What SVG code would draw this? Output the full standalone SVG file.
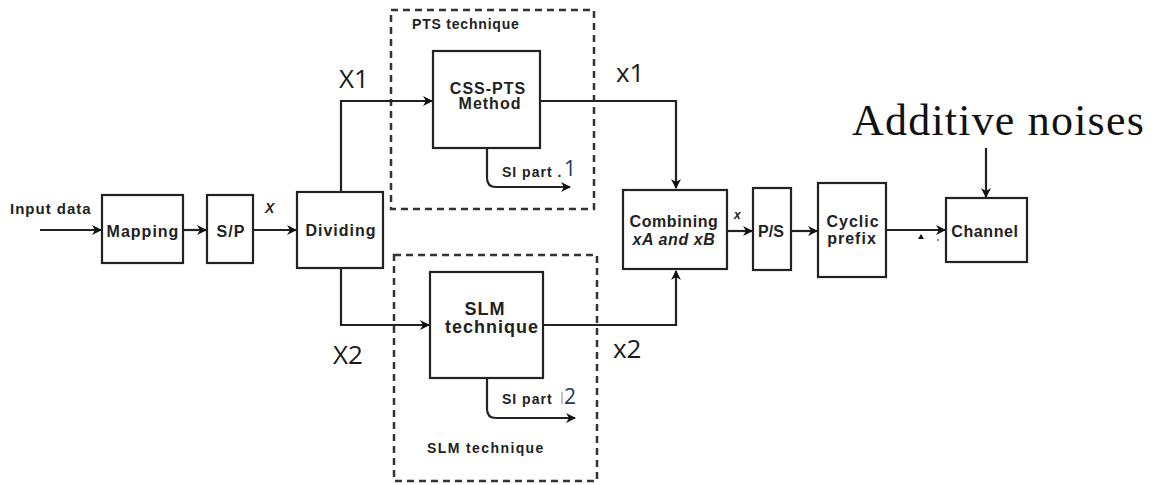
<svg xmlns="http://www.w3.org/2000/svg" width="1159" height="485" viewBox="0 0 1159 485">
<defs>
<marker id="ah" markerWidth="10" markerHeight="10" refX="9" refY="5" orient="auto" markerUnits="userSpaceOnUse">
<path d="M0,0 L10,5 L0,10 L3,5 Z" fill="#111"/>
</marker>
<style>
.box{fill:#fff;stroke:#222;stroke-width:2.2}
.dash{fill:none;stroke:#333;stroke-width:2.5;stroke-dasharray:7,5}
.ln{fill:none;stroke:#222;stroke-width:2.2}
.t{font-family:"Liberation Sans",Arial,sans-serif;font-weight:bold;font-size:16px;letter-spacing:1px;fill:#222}
.s{font-size:14px}
.big{font-family:"Open Sans","Liberation Sans",sans-serif;font-size:26px;fill:#1a1a1a}
.num{font-family:"Open Sans","Liberation Sans",sans-serif;font-size:21px;fill:#1a3a6a}
</style>
</defs>
<rect width="1159" height="485" fill="#fff"/>
<g id="pts-group">
<rect class="dash" x="391" y="10" width="203" height="199"/>
<text class="t s" x="412" y="29" style="letter-spacing:0.8px">PTS technique</text>
</g>
<g id="slm-group">
<rect class="dash" x="394" y="255" width="203" height="226"/>
<text class="t s" x="427" y="453" style="letter-spacing:1.4px">SLM technique</text>
</g>
<g id="connectors">
<line class="ln" x1="40" y1="230" x2="101" y2="230" marker-end="url(#ah)"/>
<line class="ln" x1="183" y1="230" x2="206" y2="230" marker-end="url(#ah)"/>
<line class="ln" x1="253" y1="230" x2="296" y2="230" marker-end="url(#ah)"/>
<polyline class="ln" points="341,192 341,101 432,101" marker-end="url(#ah)"/>
<polyline class="ln" points="341,268 341,325 429,325" marker-end="url(#ah)"/>
<path class="ln" d="M487,148 V178 Q487,187 496,187 H570" marker-end="url(#ah)"/>
<path class="ln" d="M487,378 V409 Q487,418 496,418 H575" marker-end="url(#ah)"/>
<polyline class="ln" points="540,101 676,101 676,188" marker-end="url(#ah)"/>
<polyline class="ln" points="543,325 676,325 676,271" marker-end="url(#ah)"/>
<line class="ln" x1="727" y1="231" x2="752" y2="231" marker-end="url(#ah)"/>
<line class="ln" x1="791" y1="231" x2="817" y2="231" marker-end="url(#ah)"/>
<line class="ln" x1="886" y1="230" x2="945" y2="230" marker-end="url(#ah)"/>
<line class="ln" x1="986" y1="148" x2="986" y2="197" marker-end="url(#ah)"/>
<path d="M918,239 L921,234 L924,239 Z" fill="#111"/>
<circle cx="938" cy="240" r="0.8" fill="#111"/>
</g>
<g id="labels">
<text class="t" x="10" y="214" style="font-size:15px">Input data</text>
<text class="t" x="265" y="213" style="font-style:italic;font-size:14px">X</text>
<text class="big" x="339" y="88">X1</text>
<text class="big" x="333" y="364">X2</text>
<text class="big" x="616" y="82">x1</text>
<text class="big" x="613" y="358">x2</text>
<text class="t" x="734" y="219" style="font-style:italic;font-size:12px">x</text>
<text class="t s" x="502" y="177">SI part .</text>
<text class="num" x="564" y="176">1</text>
<text class="t s" x="502" y="404">SI part</text>
<text class="num" x="564" y="404">2</text>
<line x1="562" y1="392" x2="562" y2="404" stroke="#888" stroke-width="1"/>
<text x="852" y="135" style="font-family:'Liberation Serif','Times New Roman',serif;font-size:44px;letter-spacing:1.2px" fill="#111">Additive noises</text>
</g>
<g id="mapping"><rect class="box" x="102" y="195" width="81" height="68"/><text class="t" x="143" y="237" text-anchor="middle">Mapping</text></g>
<g id="sp"><rect class="box" x="207" y="195" width="46" height="68"/><text class="t" x="231" y="237" text-anchor="middle">S/P</text></g>
<g id="dividing"><rect class="box" x="297" y="192" width="86" height="76"/><text class="t" x="341" y="236" text-anchor="middle">Dividing</text></g>
<g id="css-pts"><rect class="box" x="433" y="51" width="107" height="97"/><text class="t" x="488" y="94" text-anchor="middle">CSS-PTS</text><text class="t" x="490" y="109" text-anchor="middle">Method</text></g>
<g id="slm"><rect class="box" x="430" y="272" width="113" height="106"/><text class="t" x="485" y="315" text-anchor="middle" style="font-size:18px">SLM</text><text class="t" x="492" y="333" text-anchor="middle" style="font-size:18px">technique</text></g>
<g id="combining"><rect class="box" x="623" y="190" width="104" height="79"/><text class="t" x="674" y="227" text-anchor="middle" style="letter-spacing:0.6px">Combining</text><text class="t" x="674" y="245" text-anchor="middle" style="font-style:italic;letter-spacing:0.6px">xA and xB</text></g>
<g id="ps"><rect class="box" x="753" y="188" width="38" height="82"/><text class="t" x="771" y="237" text-anchor="middle" style="letter-spacing:0">P/S</text></g>
<g id="cyclic"><rect class="box" x="818" y="183" width="68" height="94"/><text class="t" x="853" y="227" text-anchor="middle">Cyclic</text><text class="t" x="852" y="244" text-anchor="middle">prefix</text></g>
<g id="channel"><rect class="box" x="946" y="198" width="81" height="64"/><text class="t" x="985" y="237" text-anchor="middle" style="letter-spacing:0.6px">Channel</text></g>
</svg>
